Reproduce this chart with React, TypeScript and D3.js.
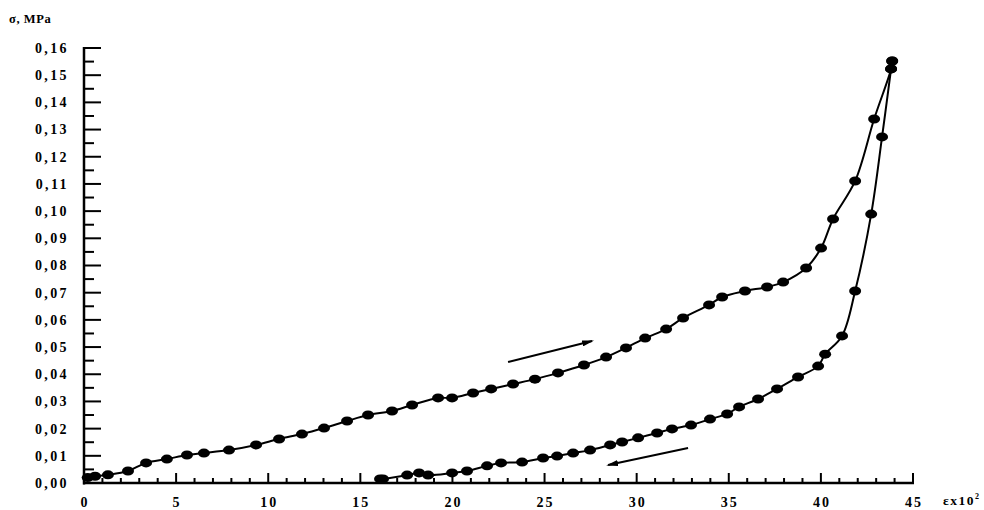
import React from "react";
import * as d3 from "d3";

// Loading branch (strain x10^2, stress MPa)
const loadX = [0.2, 0.6, 1.3, 2.39, 3.37, 4.5, 5.59, 6.51, 7.87, 9.34, 10.59, 11.83, 13.03, 14.28, 15.42, 16.72, 17.81, 19.22, 19.98, 21.12, 22.1, 23.29, 24.48, 25.73, 27.14, 28.34, 29.42, 30.46, 31.6, 32.52, 33.93, 34.64, 35.88, 37.08, 37.95, 39.2, 40.01, 40.66, 41.86, 42.89, 43.81, 43.87];
const loadY = [0.002, 0.0025, 0.003, 0.0044, 0.0074, 0.0088, 0.0103, 0.011, 0.0121, 0.014, 0.0162, 0.018, 0.0202, 0.0228, 0.025, 0.0265, 0.0287, 0.0313, 0.0313, 0.0331, 0.0346, 0.0364, 0.0382, 0.0405, 0.0434, 0.0463, 0.0497, 0.0533, 0.0566, 0.0607, 0.0655, 0.0684, 0.0706, 0.0721, 0.0739, 0.0791, 0.0864, 0.0971, 0.1111, 0.1339, 0.1523, 0.1552];

// Unloading branch
const unloadX = [43.87, 43.81, 43.32, 42.73, 41.86, 41.15, 40.23, 39.85, 38.76, 37.62, 36.59, 35.56, 34.91, 33.98, 32.95, 31.92, 31.11, 30.08, 29.21, 28.56, 27.47, 26.55, 25.68, 24.92, 23.78, 22.64, 21.88, 20.79, 19.98, 18.68, 18.19, 17.54, 16.23, 16.07];
const unloadY = [0.1552, 0.1523, 0.1273, 0.0989, 0.0706, 0.0541, 0.0474, 0.043, 0.039, 0.0346, 0.0309, 0.028, 0.0254, 0.0235, 0.0213, 0.0199, 0.0184, 0.0166, 0.0151, 0.014, 0.0121, 0.011, 0.0099, 0.0092, 0.0077, 0.0074, 0.0063, 0.0044, 0.0037, 0.0029, 0.0037, 0.0029, 0.0015, 0.0015];

// Direction arrows [x1, y1, x2, y2] in data units (head at x2,y2)
const arrowUp = [23.02, 0.0445, 27.58, 0.0522];
const arrowDown = [32.79, 0.0129, 28.45, 0.0066];

const yTickLabels = ["0,00", "0,01", "0,02", "0,03", "0,04", "0,05", "0,06", "0,07", "0,08", "0,09", "0,10", "0,11", "0,12", "0,13", "0,14", "0,15", "0,16"];
const xTickLabels = ["0", "5", "10", "15", "20", "25", "30", "35", "40", "45"];

const FONT = "'Liberation Serif', 'Times New Roman', serif";

export default function App() {
  const x = d3.scaleLinear().domain([0, 45]).range([84, 913]);
  const y = d3.scaleLinear().domain([0, 0.16]).range([483, 48]);

  const load = loadX.map((v, i) => [v, loadY[i]] as [number, number]);
  const unload = unloadX.map((v, i) => [v, unloadY[i]] as [number, number]);
  const line = d3
    .line<[number, number]>()
    .x((d) => x(d[0]))
    .y((d) => y(d[1]))
    .curve(d3.curveCatmullRom.alpha(0.5));

  const yMajor = d3.range(0, 17).map((i) => i * 0.01);
  const yMinor = d3.range(0, 16).map((i) => i * 0.01 + 0.005);
  const xMajor = d3.range(0, 10).map((i) => i * 5);
  const xMinor = d3.range(0, 46).filter((v) => v % 5 !== 0);

  const marker = (d: [number, number], k: string) => (
    <ellipse key={k} cx={x(d[0])} cy={y(d[1])} rx={6} ry={4.5} fill="#000" />
  );

  const arrow = (a: number[], k: string) => (
    <line
      key={k}
      x1={x(a[0])}
      y1={y(a[1])}
      x2={x(a[2])}
      y2={y(a[3])}
      stroke="#000"
      strokeWidth={2}
      markerEnd="url(#ah)"
    />
  );

  return (
    <svg
      width={984}
      height={510}
      style={{ position: "absolute", left: 0, top: 0, background: "#fff" }}
    >
      <defs>
        <marker id="ah" viewBox="0 0 12 6" refX="10" refY="3" markerWidth="6" markerHeight="3" orient="auto" markerUnits="strokeWidth">
          <path d="M0,0 L12,3 L0,6 Z" fill="#000" />
        </marker>
      </defs>
      <rect width={984} height={510} fill="#fff" />

      {/* y axis */}
      <line x1={84} x2={84} y1={y(0.16) - 1} y2={y(0) + 1.5} stroke="#000" strokeWidth={2.5} />
      {yMajor.map((v, i) => (
        <line key={"ym" + i} x1={84} x2={101} y1={y(v)} y2={y(v)} stroke="#000" strokeWidth={2} />
      ))}
      {yMinor.map((v, i) => (
        <line key={"yn" + i} x1={84} x2={94} y1={y(v)} y2={y(v)} stroke="#000" strokeWidth={2} />
      ))}
      {yMajor.map((v, i) => (
        <text
          key={"yl" + i}
          x={69}
          y={y(v)}
          dy="0.35em"
          textAnchor="end"
          fontFamily={FONT}
          fontWeight="bold"
          fontSize={14}
          letterSpacing={2.4}
        >
          {yTickLabels[i]}
        </text>
      ))}

      {/* x axis */}
      <line x1={83} x2={914} y1={483} y2={483} stroke="#000" strokeWidth={2.5} />
      {xMajor.concat([45]).map((v, i) => (
        <line key={"xm" + i} x1={x(v)} x2={x(v)} y1={483} y2={473} stroke="#000" strokeWidth={2} />
      ))}
      {xMinor.map((v, i) => (
        <line key={"xn" + i} x1={x(v)} x2={x(v)} y1={483} y2={478} stroke="#000" strokeWidth={2} />
      ))}
      {xMajor.map((v, i) => (
        <text
          key={"xl" + i}
          x={x(v) + 1}
          y={507}
          textAnchor="middle"
          fontFamily={FONT}
          fontWeight="bold"
          fontSize={14}
          letterSpacing={2}
        >
          {xTickLabels[i]}
        </text>
      ))}

      {/* axis titles */}
      <text x={9} y={23} fontFamily={FONT} fontWeight="bold" fontSize={12.5} letterSpacing={0.6}>
        σ, MPa
      </text>
      <text x={943} y={505} fontFamily={FONT} fontWeight="bold" fontSize={13.5} letterSpacing={1.5}>
        εx10
        <tspan dy={-6} fontSize={8}>2</tspan>
      </text>

      {/* curves */}
      <path d={line(load) || ""} fill="none" stroke="#000" strokeWidth={2} />
      <path d={line(unload) || ""} fill="none" stroke="#000" strokeWidth={2} />
      {load.map((d, i) => marker(d, "lp" + i))}
      {unload.map((d, i) => marker(d, "up" + i))}

      {arrow(arrowUp, "a1")}
      {arrow(arrowDown, "a2")}
    </svg>
  );
}
